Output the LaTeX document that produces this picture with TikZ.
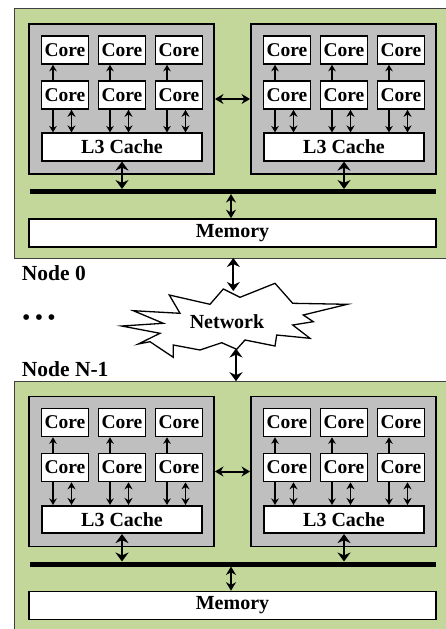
\documentclass[tikz,border=0pt]{standalone}
\usepackage{fontspec}
\setmainfont{Liberation Serif}
\usetikzlibrary{arrows.meta}
\definecolor{nodegreen}{HTML}{C4D79B}
\definecolor{socgray}{HTML}{BFBFBF}
\tikzset{
  greenbox/.style={draw=black!75, line width=1pt, fill=nodegreen, inner sep=0pt, outer sep=0pt},
  socbox/.style={draw=black, line width=1.9pt, fill=socgray, minimum width=185pt, minimum height=150pt, inner sep=0pt},
  corebox/.style={draw=black, line width=1.6pt, fill=white, minimum width=47pt, minimum height=28pt, inner sep=0pt, font=\fontsize{19.5}{20}\selectfont\bfseries},
  cachebox/.style={corebox, minimum width=160.5pt, minimum height=27.5pt, font=\fontsize{20}{22}\selectfont\bfseries},
  membox/.style={corebox, minimum width=407pt, minimum height=28pt, font=\fontsize{20}{22}\selectfont\bfseries},
  bus/.style={line width=5pt, draw=black},
  bigarr/.style={line width=2.1pt, {Stealth[length=9pt,width=13pt]}-{Stealth[length=9pt,width=13pt]}},
  medarr/.style={line width=2pt, {Stealth[length=8.5pt,width=10pt]}-{Stealth[length=8.5pt,width=10pt]}},
  smalldbl/.style={line width=1.6pt, {Stealth[length=7pt,width=8pt]}-{Stealth[length=7pt,width=8pt]}},
  smallone/.style={line width=1.6pt, -{Stealth[length=6.5pt,width=7.5pt]}},
  labeltxt/.style={font=\fontsize{21.5}{24}\selectfont\bfseries, inner sep=0pt, anchor=west},
  netshape/.style={draw=black, line width=1.3pt, fill=white, line join=miter},
}
\begin{document}
\begin{tikzpicture}[x=1pt,y=-1pt]
\useasboundingbox (0,0) rectangle (445,629);
\foreach \n/\dy in {0/0, 1/372.5}{
 \begin{scope}[shift={(0,\dy)}]
  \node[greenbox, minimum width=436pt, minimum height=249.3pt, anchor=north west] (grn\n) at (14.7,8.7) {};
  \coordinate (busL\n) at (30,191.5);
  \coordinate (busR\n) at (436,191.5);
  \coordinate (busTop\n) at (0,189);
  \coordinate (busBot\n) at (0,194);
  \foreach \s/\dx in {a/0, b/222}{
    \node[socbox] (soc\n\s) at (121.5+\dx,99) {};
    \node[cachebox] (l3\n\s) at (122+\dx,147) {L3 Cache};
    \foreach \c/\cx in {1/65, 2/122, 3/179}{
      \node[corebox] (ct\n\s\c) at (\cx+\dx,50) {Core};
      \node[corebox] (cb\n\s\c) at (\cx+\dx,95) {Core};
      \draw[smallone] ([xshift=-12pt]cb\n\s\c.north) -- ([xshift=-12pt]ct\n\s\c.south);
      \draw[smallone] ([xshift=-12pt]cb\n\s\c.south) -- ([xshift=-12pt]cb\n\s\c.south |- l3\n\s.north);
      \draw[smalldbl] ([xshift=6.5pt]cb\n\s\c.south) -- ([xshift=6.5pt]cb\n\s\c.south |- l3\n\s.north);
    }
    \draw[bigarr] (l3\n\s.south) -- (l3\n\s.south |- busTop\n);
  }
  \draw[bus] (busL\n) -- (busR\n);
  \node[membox] (mem\n) at (232.5,233) {Memory};
  \draw[medarr] ([xshift=-1.5pt]mem\n.north) -- ([xshift=-1.5pt]mem\n.north |- busBot\n);
  \draw[medarr] (soc\n a.east) -- (soc\n b.west);
 \end{scope}
}
\node[labeltxt] (lab0) at (21.7,273) {Node 0};
\node[labeltxt] (lab1) at (21.7,369) {Node N-1};
\node[labeltxt, font=\fontsize{21}{22}\selectfont\bfseries] (dots) at (22.5,320) {• • •};
\draw[netshape] (169.3,295) -- (210,304.3) -- (223.3,289) -- (240,297.3) -- (275,283.3)
  -- (292.7,303.3) -- (347.3,304.3) -- (303.3,315) -- (313.3,321.7) -- (292.7,325)
  -- (310,338.3) -- (276.7,335) -- (275,346) -- (245,340) -- (236.7,349.3)
  -- (221.7,342.7) -- (200,350) -- (173.3,345) -- (173.3,357.3) -- (150,341.7)
  -- (138.3,344) -- (160,333.3) -- (121.7,326) -- (163.3,323.3) -- (133.3,310.7)
  -- (180,313.3) -- cycle;
\node[font=\fontsize{20}{22}\selectfont\bfseries, inner sep=0pt] (net) at (227,321.5) {Network};
\coordinate (nettop) at (233.3,291);
\coordinate (netbot) at (236,348.5);
\draw[bigarr] (grn0.south -| nettop) -- (nettop);
\draw[bigarr] (netbot) -- (grn1.north -| netbot);
\end{tikzpicture}
\end{document}
